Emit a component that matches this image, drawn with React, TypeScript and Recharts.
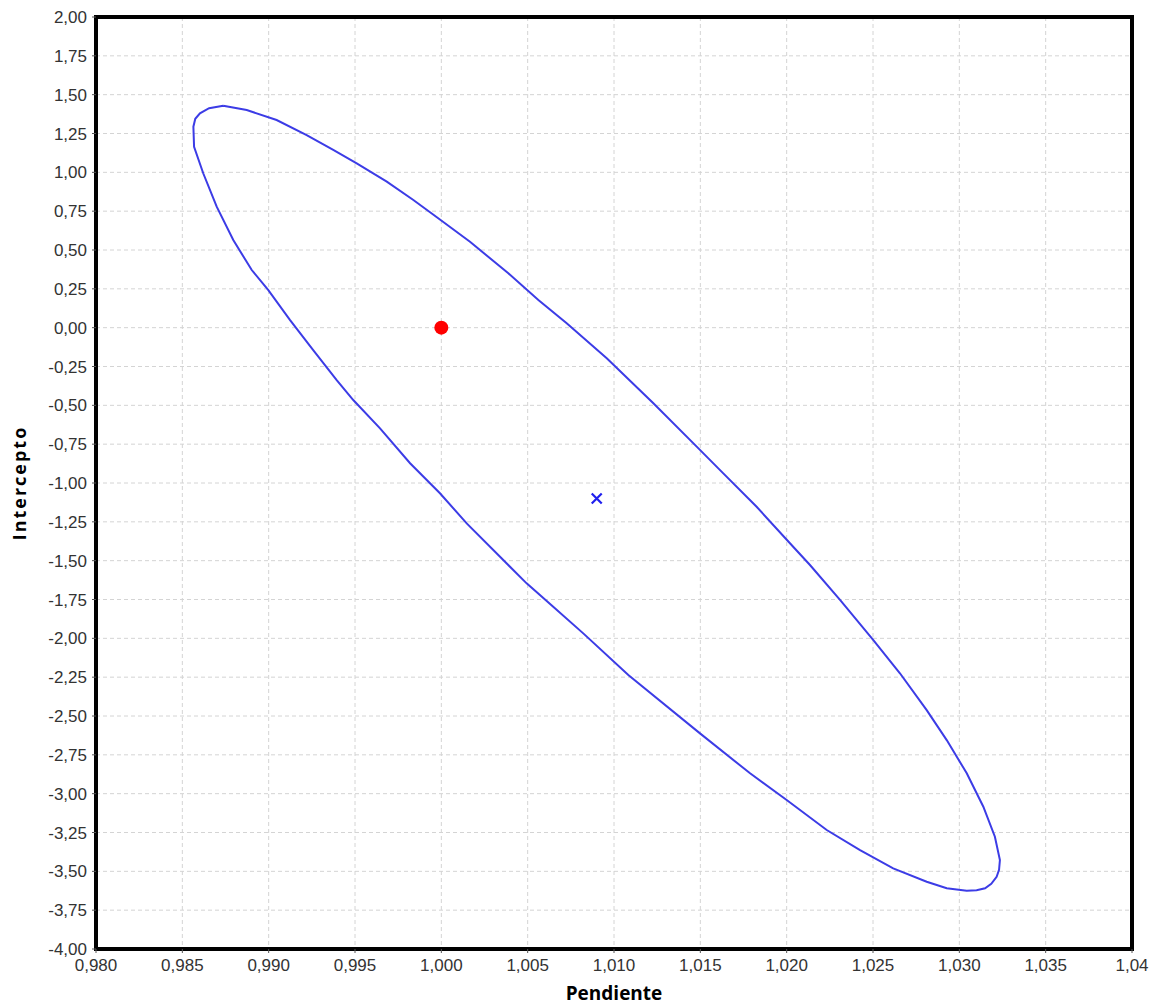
import React from 'react';
import { ScatterChart, Scatter, XAxis, YAxis, CartesianGrid, ReferenceArea } from 'recharts';

// confidence ellipse outline (pendiente, intercepto), traced clockwise
const ellipsePoints = [
  { x: 0.98737, y: 1.429 },
  { x: 0.98873, y: 1.401 },
  { x: 0.99046, y: 1.337 },
  { x: 0.9922, y: 1.24 },
  { x: 0.99374, y: 1.144 },
  { x: 0.9951, y: 1.058 },
  { x: 0.99684, y: 0.94 },
  { x: 0.99838, y: 0.822 },
  { x: 0.99982, y: 0.704 },
  { x: 1.00166, y: 0.553 },
  { x: 1.00388, y: 0.35 },
  { x: 1.00562, y: 0.178 },
  { x: 1.00726, y: 0.028 },
  { x: 1.00958, y: -0.197 },
  { x: 1.01228, y: -0.487 },
  { x: 1.01479, y: -0.766 },
  { x: 1.01633, y: -0.938 },
  { x: 1.01826, y: -1.153 },
  { x: 1.02019, y: -1.388 },
  { x: 1.02135, y: -1.528 },
  { x: 1.02309, y: -1.753 },
  { x: 1.02502, y: -2.011 },
  { x: 1.02656, y: -2.225 },
  { x: 1.02811, y: -2.462 },
  { x: 1.02927, y: -2.655 },
  { x: 1.03043, y: -2.869 },
  { x: 1.03139, y: -3.084 },
  { x: 1.03206, y: -3.277 },
  { x: 1.03235, y: -3.427 },
  { x: 1.0323, y: -3.49 },
  { x: 1.03216, y: -3.535 },
  { x: 1.03185, y: -3.58 },
  { x: 1.03149, y: -3.609 },
  { x: 1.031, y: -3.622 },
  { x: 1.03043, y: -3.625 },
  { x: 1.02927, y: -3.609 },
  { x: 1.02811, y: -3.567 },
  { x: 1.02617, y: -3.481 },
  { x: 1.02425, y: -3.363 },
  { x: 1.02232, y: -3.234 },
  { x: 1.02, y: -3.041 },
  { x: 1.01788, y: -2.869 },
  { x: 1.01498, y: -2.612 },
  { x: 1.01083, y: -2.236 },
  { x: 1.00822, y: -1.968 },
  { x: 1.00648, y: -1.797 },
  { x: 1.00494, y: -1.646 },
  { x: 1.0034, y: -1.475 },
  { x: 1.00147, y: -1.26 },
  { x: 0.99992, y: -1.066 },
  { x: 0.99819, y: -0.873 },
  { x: 0.99645, y: -0.648 },
  { x: 0.9949, y: -0.466 },
  { x: 0.99394, y: -0.337 },
  { x: 0.99258, y: -0.144 },
  { x: 0.99124, y: 0.049 },
  { x: 0.98998, y: 0.242 },
  { x: 0.98902, y: 0.371 },
  { x: 0.98795, y: 0.564 },
  { x: 0.98699, y: 0.779 },
  { x: 0.98621, y: 0.994 },
  { x: 0.98568, y: 1.165 },
  { x: 0.98564, y: 1.294 },
  { x: 0.98575, y: 1.345 },
  { x: 0.98602, y: 1.38 },
  { x: 0.98655, y: 1.413 },
  { x: 0.98737, y: 1.429 },
];

// reference point (ideal slope 1, intercept 0) and the estimate
const idealPoint = [{ x: 1.0, y: 0.0 }];
const estimatePoint = [{ x: 1.009, y: -1.1 }];

const xTicks = [0.98, 0.985, 0.99, 0.995, 1.0, 1.005, 1.01, 1.015, 1.02, 1.025, 1.03, 1.035, 1.04];
const xTickLabels = ['0,980', '0,985', '0,990', '0,995', '1,000', '1,005', '1,010', '1,015', '1,020', '1,025', '1,030', '1,035', '1,04'];

const yTicks = [
  2, 1.75, 1.5, 1.25, 1, 0.75, 0.5, 0.25, 0, -0.25, -0.5, -0.75, -1, -1.25, -1.5, -1.75,
  -2, -2.25, -2.5, -2.75, -3, -3.25, -3.5, -3.75, -4,
];
const yTickLabels = [
  '2,00', '1,75', '1,50', '1,25', '1,00', '0,75', '0,50', '0,25', '0,00', '-0,25', '-0,50', '-0,75',
  '-1,00', '-1,25', '-1,50', '-1,75', '-2,00', '-2,25', '-2,50', '-2,75', '-3,00', '-3,25', '-3,50',
  '-3,75', '-4,00',
];

const tickStyle = { fill: '#333', fontSize: 17, fontFamily: '"Liberation Sans", Arial, sans-serif' };
const titleStyle = { fill: '#000', fontSize: 19, fontWeight: 700, fontFamily: '"Open Sans", sans-serif' };

const Nothing = () => <g />;

const RedDot = (props: any) => <circle cx={props.cx} cy={props.cy} r={7} fill="#ff0000" />;

const BlueCross = (props: any) => {
  const { cx, cy } = props;
  const s = 5;
  return (
    <path
      d={`M${cx - s},${cy - s}L${cx + s},${cy + s}M${cx - s},${cy + s}L${cx + s},${cy - s}`}
      stroke="#2020ee"
      strokeWidth={2.2}
      fill="none"
    />
  );
};

export default function App() {
  return (
    <div style={{ position: 'absolute', left: 0, top: 0, width: 1151, height: 1007, background: '#fff' }}>
      <ScatterChart width={1151} height={1007} margin={{ top: 17, right: 19, bottom: 0, left: 0 }}>
        <CartesianGrid stroke="#d4d4d4" strokeDasharray="4 3" />
        <XAxis
          type="number"
          dataKey="x"
          domain={[0.98, 1.04]}
          ticks={xTicks}
          tickFormatter={(v: number, i: number) => xTickLabels[i]}
          interval={0}
          height={58}
          axisLine={false}
          tickLine={{ stroke: '#555' }}
          tickSize={4}
          tickMargin={6}
          tick={tickStyle}
          label={{ value: 'Pendiente', position: 'insideBottom', offset: 7, style: titleStyle }}
        />
        <YAxis
          type="number"
          dataKey="y"
          domain={[-4, 2]}
          ticks={yTicks}
          tickFormatter={(v: number, i: number) => yTickLabels[i]}
          interval={0}
          width={96}
          axisLine={false}
          tickLine={{ stroke: '#555' }}
          tickSize={4}
          tickMargin={5}
          tick={tickStyle}
          label={{
            value: 'Intercepto',
            angle: -90,
            position: 'insideLeft',
            offset: 20,
            style: { ...titleStyle, fontSize: 18, textAnchor: 'middle', letterSpacing: 2 },
          }}
        />
        <Scatter
          data={ellipsePoints}
          line={{ stroke: '#3c3ce6', strokeWidth: 2 }}
          lineType="joint"
          shape={<Nothing />}
          isAnimationActive={false}
        />
        <Scatter data={idealPoint} shape={<RedDot />} isAnimationActive={false} />
        <Scatter data={estimatePoint} shape={<BlueCross />} isAnimationActive={false} />
        <ReferenceArea x1={0.98} x2={1.04} y1={-4} y2={2} fill="none" stroke="#000" strokeWidth={4} ifOverflow="visible" />
      </ScatterChart>
    </div>
  );
}
